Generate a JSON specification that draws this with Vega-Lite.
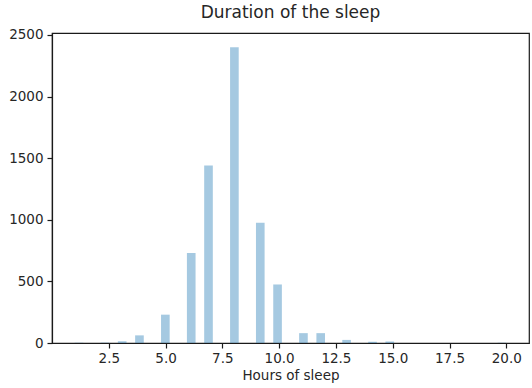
{
  "$schema": "https://vega.github.io/schema/vega-lite/v6.json",
  "autosize": "none",
  "width": 477,
  "height": 310,
  "padding": {"left": 52, "top": 33, "right": 3, "bottom": 45},
  "background": "white",
  "config": {
    "font": "DejaVu Sans",
    "view": {"stroke": "#1a1a1a", "strokeWidth": 1.2},
    "axis": {
      "labelFont": "DejaVu Sans",
      "titleFont": "DejaVu Sans",
      "labelFontSize": 13.5,
      "titleFontSize": 13.5,
      "titleFontWeight": "normal",
      "labelColor": "#262626",
      "titleColor": "#262626",
      "domainColor": "#1a1a1a",
      "domainWidth": 1.2,
      "tickColor": "#1a1a1a",
      "tickWidth": 1.2,
      "tickSize": 5,
      "labelPadding": 3,
      "grid": false
    }
  },
  "title": {
    "text": "Duration of the sleep",
    "fontSize": 17,
    "font": "DejaVu Sans",
    "fontWeight": "normal",
    "color": "#262626",
    "offset": 6,
    "anchor": "middle"
  },
  "data": {
    "values": [
      {"start": 1.00, "end": 1.38, "count": 2},
      {"start": 2.14, "end": 2.52, "count": 3},
      {"start": 2.90, "end": 3.28, "count": 14},
      {"start": 3.66, "end": 4.04, "count": 62},
      {"start": 4.80, "end": 5.18, "count": 230},
      {"start": 5.94, "end": 6.32, "count": 730},
      {"start": 6.70, "end": 7.08, "count": 1440},
      {"start": 7.84, "end": 8.22, "count": 2400},
      {"start": 8.98, "end": 9.36, "count": 975},
      {"start": 9.74, "end": 10.12, "count": 475},
      {"start": 10.88, "end": 11.26, "count": 80},
      {"start": 11.64, "end": 12.02, "count": 80},
      {"start": 12.78, "end": 13.16, "count": 25},
      {"start": 13.92, "end": 14.30, "count": 10},
      {"start": 14.68, "end": 15.06, "count": 12},
      {"start": 19.62, "end": 20.00, "count": 2}
    ]
  },
  "mark": {"type": "bar", "color": "#1f77b4", "opacity": 0.4},
  "encoding": {
    "x": {
      "field": "start",
      "type": "quantitative",
      "scale": {"domain": [0, 21], "nice": false, "zero": false},
      "axis": {"values": [2.5, 5, 7.5, 10, 12.5, 15, 17.5, 20], "format": ".1f", "title": "Hours of sleep", "titlePadding": 4}
    },
    "x2": {"field": "end"},
    "y": {
      "field": "count",
      "type": "quantitative",
      "scale": {"domain": [0, 2516], "nice": false},
      "axis": {"values": [0, 500, 1000, 1500, 2000, 2500], "format": "d", "title": null, "labelPadding": 4}
    },
    "y2": {"datum": 0}
  }
}
